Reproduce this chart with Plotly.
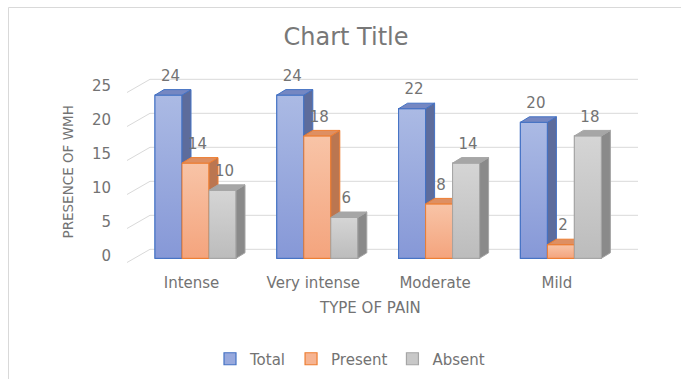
import plotly.graph_objects as go

# ---- data -------------------------------------------------------------
categories = ["Intense", "Very intense", "Moderate", "Mild"]
series_names = ["Total", "Present", "Absent"]
total = [24, 24, 22, 20]
present = [14, 18, 8, 2]
absent = [10, 6, 14, 18]
y_ticks = [0, 5, 10, 15, 20, 25]

series_values = [total, present, absent]

# ---- styling ------------------------------------------------------------
FONT = "DejaVu Sans"
TEXT_COLOR = "#737373"
GRID_COLOR = "#D9D9D9"
STYLE = {
    "Total":   dict(top="#ABBAE4", bottom="#8698D7", mid="#98A9DD", edge="#4472C4",
                    side="#5D6C9C", cap="#7587C2"),
    "Present": dict(top="#F8C4A7", bottom="#F4A47D", mid="#F6B492", edge="#ED7D31",
                    side="#BB7650", cap="#DE8F62"),
    "Absent":  dict(top="#D5D5D5", bottom="#BCBCBC", mid="#C8C8C8", edge="#A5A5A5",
                    side="#8A8A8A", cap="#A6A6A6"),
}

# ---- geometry (pixels of the 681x379 canvas) ---------------------------
W, H = 681, 379
PLOT_L, PLOT_R, PLOT_T, PLOT_B = 150, 638, 60, 268
PX_PER_CAT = 121.8          # horizontal distance between category groups
PX_PER_UNIT = 6.8           # vertical pixels per value unit
GROUP0_PX = 195.5           # centre of the first group
BASE_PX = 258.3             # bar base line (front plane)

x_range = [(PLOT_L - GROUP0_PX) / PX_PER_CAT, (PLOT_R - GROUP0_PX) / PX_PER_CAT]
y_range = [(BASE_PX - PLOT_B) / PX_PER_UNIT, (BASE_PX - PLOT_T) / PX_PER_UNIT]

BAR_W = 27 / PX_PER_CAT
DEPTH_X = 9 / PX_PER_CAT
DEPTH_Y = 5.5 / PX_PER_UNIT
WALL_SHIFT = 9 / PX_PER_UNIT            # back wall gridlines sit higher
FRONT_SHIFT = -4.2 / PX_PER_UNIT        # front edge of the floor / side wall
WALL_LEFT_PAPER = (127 - PLOT_L) / (PLOT_R - PLOT_L)
LABEL_LIFT = 18 / PX_PER_UNIT
LABEL_NUDGE = 2 / PX_PER_CAT


def px_to_paper(px, py):
    return ((px - PLOT_L) / (PLOT_R - PLOT_L), (PLOT_B - py) / (PLOT_B - PLOT_T))


fig = go.Figure()

# front faces as ordinary bars
for k, (name, vals) in enumerate(zip(series_names, series_values)):
    st = STYLE[name]
    fig.add_trace(go.Bar(
        name=name, x=list(range(len(categories))), y=vals,
        width=BAR_W, offset=(k - 1.5) * BAR_W,
        marker=dict(color=st["mid"], line=dict(color=st["edge"], width=1.2)),
        hoverinfo="skip",
    ))

# shaded front, side and top faces; drawn left to right so that each bar
# covers the hidden parts of its left neighbour
for i in range(len(categories)):
    for k, (name, vals) in enumerate(zip(series_names, series_values)):
        st = STYLE[name]
        v = vals[i]
        xl = i + (k - 1.5) * BAR_W
        xr = xl + BAR_W
        common = dict(mode="lines", fill="toself", showlegend=False,
                      hoverinfo="skip", line=dict(color=st["edge"], width=1))
        fig.add_trace(go.Scatter(
            x=[xl, xr, xr, xl, xl], y=[0, 0, v, v, 0],
            fillgradient=dict(type="vertical", start=0, stop=v,
                              colorscale=[[0, st["bottom"]], [1, st["top"]]]),
            **common))
        fig.add_trace(go.Scatter(
            x=[xr, xr + DEPTH_X, xr + DEPTH_X, xr, xr],
            y=[0, DEPTH_Y, v + DEPTH_Y, v, 0],
            fillcolor=st["side"], **common))
        fig.add_trace(go.Scatter(
            x=[xl, xr, xr + DEPTH_X, xl + DEPTH_X, xl],
            y=[v, v, v + DEPTH_Y, v + DEPTH_Y, v],
            fillcolor=st["cap"], **common))

# value labels
for k, (name, vals) in enumerate(zip(series_names, series_values)):
    fig.add_trace(go.Scatter(
        x=[i + (k - 1) * BAR_W + LABEL_NUDGE for i in range(len(vals))],
        y=[v + LABEL_LIFT for v in vals],
        mode="text", text=[str(v) for v in vals], textposition="middle center",
        textfont=dict(family=FONT, size=15, color=TEXT_COLOR),
        showlegend=False, hoverinfo="skip",
    ))

# back-wall gridlines and the slanted side-wall lines
shapes = []
for t in y_ticks:
    shapes.append(dict(type="line", xref="paper", yref="y", x0=0, x1=1,
                       y0=t + WALL_SHIFT, y1=t + WALL_SHIFT,
                       line=dict(color=GRID_COLOR, width=1), layer="below"))
    shapes.append(dict(type="line", xref="paper", yref="y", x0=WALL_LEFT_PAPER, x1=0,
                       y0=t + FRONT_SHIFT, y1=t + WALL_SHIFT,
                       line=dict(color=GRID_COLOR, width=1), layer="below"))

# chart frame
fx0, fy0 = px_to_paper(8.5, 384)
fx1, fy1 = px_to_paper(683, 7.5)
shapes.append(dict(type="rect", xref="paper", yref="paper", x0=fx0, x1=fx1, y0=fy0, y1=fy1,
                   line=dict(color=GRID_COLOR, width=1), layer="below"))

ytx, yty = px_to_paper(67, 172.5)
xtx, xty = px_to_paper(369.5, 308)

fig.update_layout(
    width=W, height=H,
    margin=dict(l=PLOT_L, r=W - PLOT_R, t=PLOT_T, b=H - PLOT_B, pad=0),
    paper_bgcolor="white", plot_bgcolor="rgba(0,0,0,0)",
    barmode="overlay",
    font=dict(family=FONT, color=TEXT_COLOR, size=15),
    title=dict(text="Chart Title", xref="container", yref="container",
               x=346 / W, y=1 - 37 / H, xanchor="center", yanchor="middle",
               font=dict(family=FONT, size=24, color="#787878")),
    xaxis=dict(range=x_range, tickvals=list(range(len(categories))), ticktext=categories,
               showgrid=False, zeroline=False, showline=False, ticks="",
               ticklabelshift=-4, ticklabelstandoff=4,
               tickfont=dict(family=FONT, size=15, color=TEXT_COLOR), fixedrange=True),
    yaxis=dict(range=y_range, tickvals=y_ticks, showgrid=False, zeroline=False,
               showline=False, ticks="", ticklabelshift=-3, ticklabelstandoff=38,
               tickfont=dict(family=FONT, size=15, color=TEXT_COLOR), fixedrange=True),
    legend=dict(orientation="h", xref="container", yref="container",
                x=350 / W, y=1 - 359 / H, xanchor="center", yanchor="middle",
                font=dict(family=FONT, size=15, color=TEXT_COLOR), bgcolor="rgba(0,0,0,0)"),
    shapes=shapes,
    annotations=[
        dict(text="PRESENCE OF WMH", xref="paper", yref="paper", x=ytx, y=yty,
             textangle=-90, showarrow=False, xanchor="center", yanchor="middle",
             font=dict(family=FONT, size=13.5, color=TEXT_COLOR)),
        dict(text="TYPE OF PAIN", xref="paper", yref="paper", x=xtx, y=xty,
             showarrow=False, xanchor="center", yanchor="middle",
             font=dict(family=FONT, size=15, color=TEXT_COLOR)),
    ],
)

fig.write_html("out.html")
